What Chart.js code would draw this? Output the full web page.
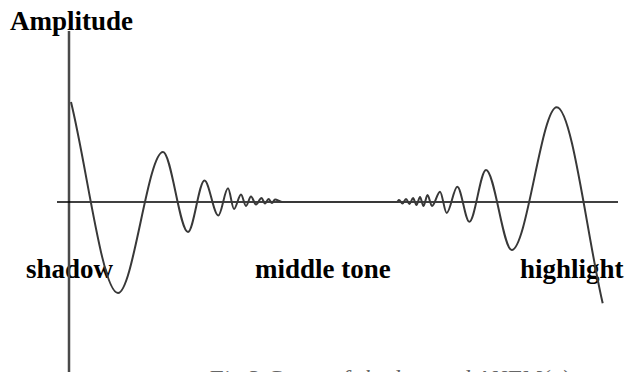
<!DOCTYPE html>
<html>
<head>
<meta charset="utf-8">
<script src="https://cdn.jsdelivr.net/npm/chart.js@4"></script>
<style>
    html, body { margin: 0; padding: 0; background: #fff; }
    body { width: 628px; height: 372px; overflow: hidden; position: relative; }
    .chart-container { position: absolute; left: 0; top: 0; width: 628px; height: 372px; }
    .etiqueta {
        position: absolute;
        font-family: "Liberation Serif", "Times New Roman", serif;
        font-weight: bold;
        font-size: 27px;
        line-height: 1;
        color: #000;
        white-space: nowrap;
    }
    .pie {
        position: absolute;
        font-family: "Liberation Serif", "Times New Roman", serif;
        font-style: italic;
        font-size: 24px;
        line-height: 1;
        color: #666;
        white-space: nowrap;
    }
</style>
</head>
<body>
<span class="etiqueta" id="titulo-eje" style="left:10px; top:8px"></span>
<span class="etiqueta" id="zona-0" style="left:26px; top:256px"></span>
<span class="etiqueta" id="zona-1" style="left:255px; top:256px"></span>
<span class="etiqueta" id="zona-2" style="left:520px; top:256px"></span>
<span class="pie" id="pie" style="left:208px; top:366px"></span>
<div class="chart-container"><canvas id="chartOnda"></canvas></div>
<script>
// Textos
const tituloEje = 'Amplitude'
const zonas = ['shadow', 'middle tone', 'highlight']
const pie = 'Fig.3 Curve of shadow and ANFM(α)'

// Extremos de la curva (x desde el eje, amplitud)
const ondaX = [
    2, 49, 94, 119, 135.5, 149.3, 159, 165, 172, 177, 182, 187, 192.5, 196, 199.5, 203, 206, 213,
    250, 290, 328,
    330, 333.5, 337, 340.5, 344, 347.5, 351, 354.5, 358.5, 363,
    371, 377.7, 388.3, 400.3, 417, 442.7, 487.7, 533.7
]
const ondaY = [
    100, -91, 50, -30, 21.5, -13.5, 13.7, -7, 7.5, -4, 5.5, -2.5, 4, -1.5, 3, -1, 2.5, 0,
    0, 0, 0,
    2, -1.5, 3, -2, 4, -3, 5, -4, 7, -4,
    10.3, -11, 15.3, -19.7, 32, -48, 94.7, -101.3
]

let chartInstance = null

// Ejes cruzados en cero
const ejesPlugin = {
    id: 'ejes',
    beforeDatasetsDraw(chart) {
        const { ctx, chartArea, scales } = chart
        const x0 = scales.x.getPixelForValue(0)
        const y0 = scales.y.getPixelForValue(0)
        ctx.save()
        ctx.strokeStyle = '#4a4a4a'
        ctx.lineWidth = 2.5
        ctx.beginPath()
        ctx.moveTo(x0, chartArea.top)
        ctx.lineTo(x0, chartArea.bottom)
        ctx.stroke()
        ctx.strokeStyle = '#000'
        ctx.lineWidth = 1.5
        ctx.beginPath()
        ctx.moveTo(chartArea.left, y0)
        ctx.lineTo(chartArea.right, y0)
        ctx.stroke()
        ctx.restore()
    }
}

function renderizarGrafico() {
    document.getElementById('titulo-eje').textContent = tituloEje
    zonas.forEach((z, i) => {
        document.getElementById('zona-' + i).textContent = z
    })
    document.getElementById('pie').textContent = pie

    const puntos = ondaX.map((x, i) => ({ x, y: ondaY[i] }))

    if (chartInstance) {
        chartInstance.destroy()
    }

    const ctx = document.getElementById('chartOnda').getContext('2d')
    chartInstance = new Chart(ctx, {
        type: 'line',
        data: {
            datasets: [{
                label: tituloEje,
                data: puntos,
                borderColor: '#383838',
                borderWidth: 2,
                pointRadius: 0,
                cubicInterpolationMode: 'monotone',
                fill: false,
                clip: false
            }]
        },
        options: {
            responsive: true,
            maintainAspectRatio: false,
            animation: false,
            layout: {
                padding: { left: 57, right: 10, top: 31, bottom: 0 }
            },
            plugins: {
                legend: { display: false },
                tooltip: { enabled: false }
            },
            scales: {
                x: { type: 'linear', display: false, min: -12, max: 549 },
                y: { type: 'linear', display: false, min: -170, max: 171 }
            }
        },
        plugins: [ejesPlugin]
    })
}

renderizarGrafico()
</script>
</body>
</html>
